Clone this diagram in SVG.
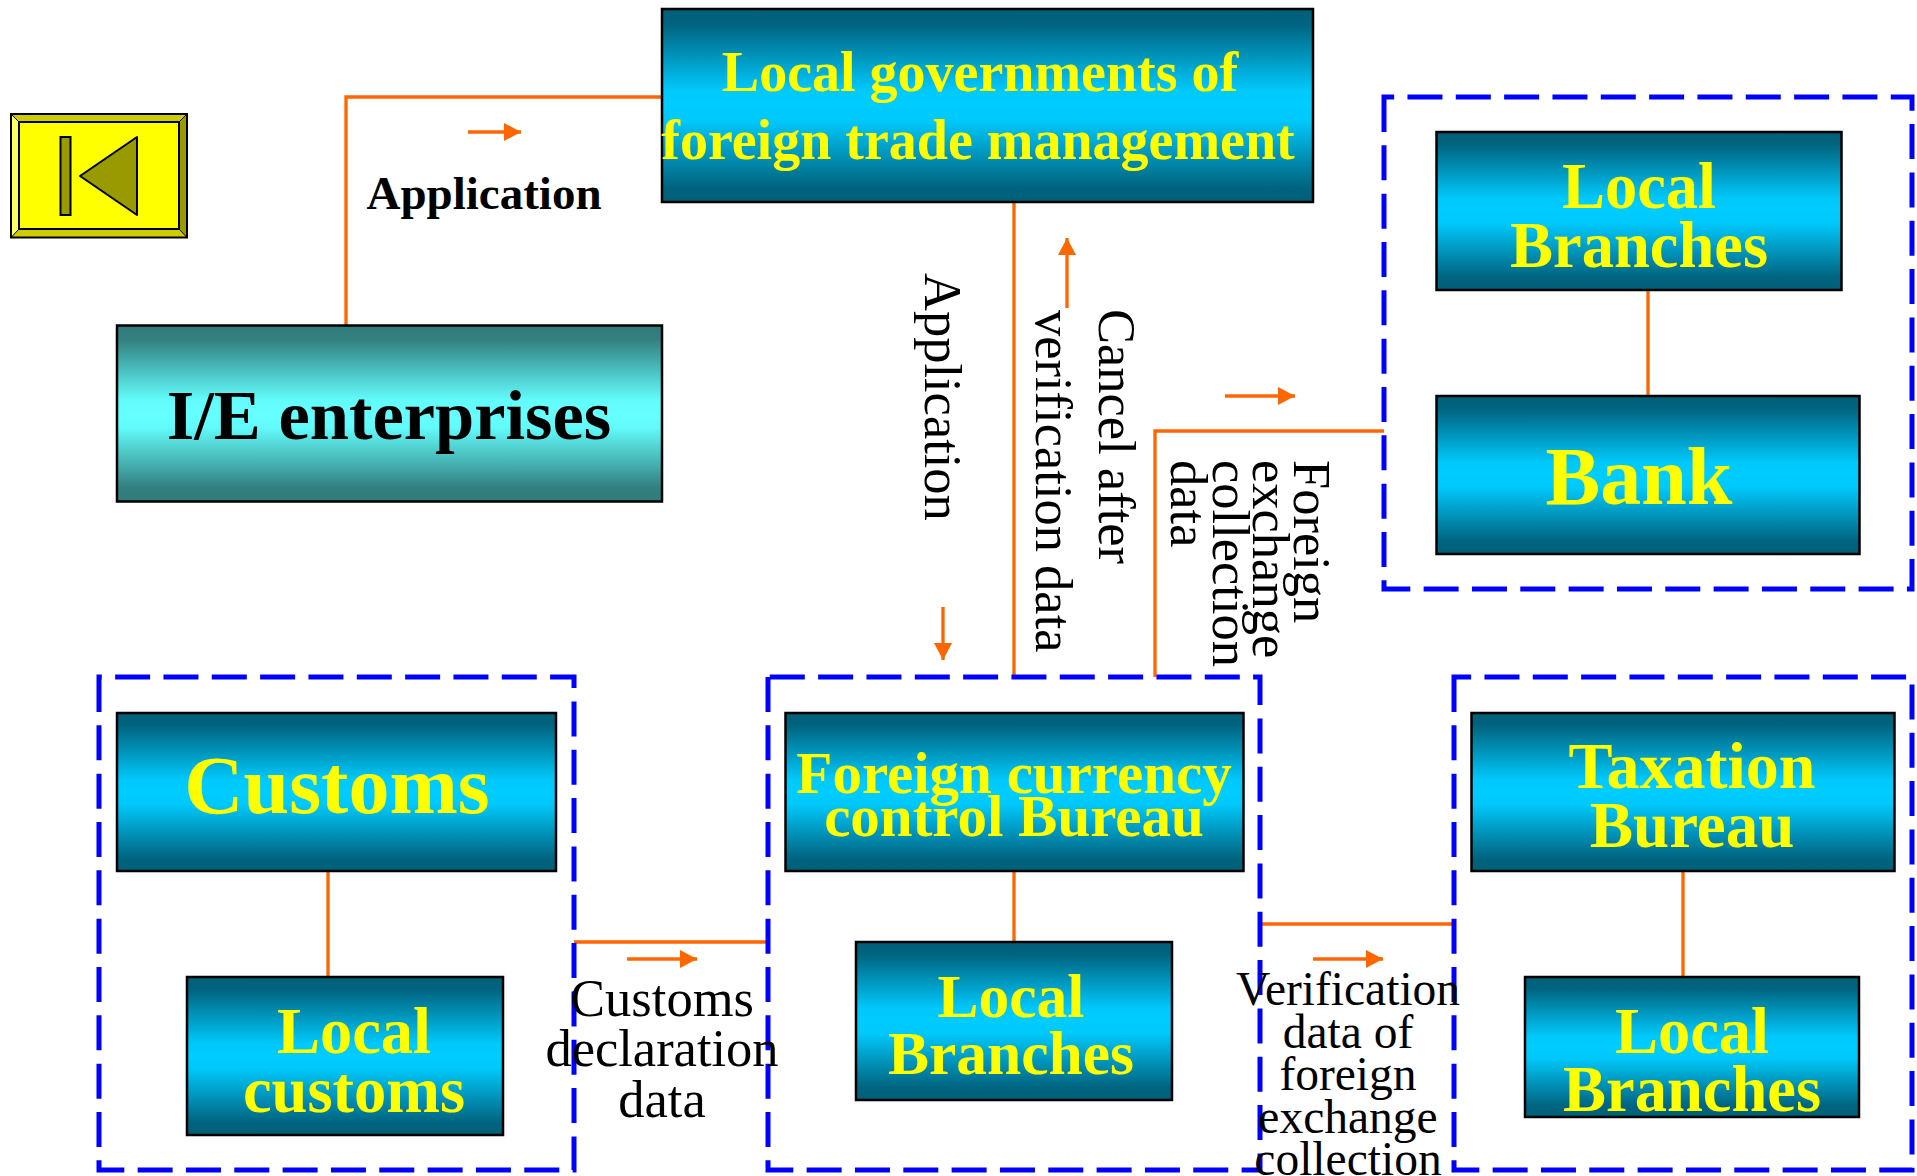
<svg xmlns="http://www.w3.org/2000/svg" width="1917" height="1176" viewBox="0 0 1917 1176">
<style>
.n{stroke:#000;stroke-width:2.500;fill:url(#g)}
.y{font-family:"Liberation Serif",serif;font-weight:bold;fill:#ffff00;text-anchor:middle}
.b{font-family:"Liberation Serif",serif;fill:#000;text-anchor:middle;font-size:52.500px}
.r{font-family:"Liberation Serif",serif;fill:#000;font-size:52.500px}
.v{font-family:"Liberation Serif",serif;fill:#000;text-anchor:middle;font-size:47.500px}
.c{fill:none;stroke:#ff6600;stroke-width:3.300}
.a{fill:none;stroke:#ff6600;stroke-width:3.300;marker-end:url(#m)}
.d{fill:none;stroke:#0000ff;stroke-width:5;stroke-dasharray:35 13.330}
</style>
<defs>
<linearGradient id="g" x1="0" y1="0" x2="0" y2="1"><stop offset="0" stop-color="#005f78"/><stop offset=".08" stop-color="#006480"/><stop offset=".42" stop-color="#00c8fa"/><stop offset=".5" stop-color="#00ccff"/><stop offset=".58" stop-color="#00c8fa"/><stop offset=".92" stop-color="#006480"/><stop offset="1" stop-color="#005f78"/></linearGradient>
<linearGradient id="t" x1="0" y1="0" x2="0" y2="1"><stop offset="0" stop-color="#337a7a"/><stop offset=".08" stop-color="#338080"/><stop offset=".42" stop-color="#62fafa"/><stop offset=".5" stop-color="#66ffff"/><stop offset=".58" stop-color="#62fafa"/><stop offset=".92" stop-color="#338080"/><stop offset="1" stop-color="#337a7a"/></linearGradient>
<marker id="m" markerUnits="userSpaceOnUse" markerWidth="18" markerHeight="18" refX="17" refY="9" orient="auto"><path d="M0 0L17 9L0 18Z" fill="#ff6600"/></marker>
</defs>
<g id="back">
<rect x="11" y="114" width="176" height="123.500" fill="#ffff00"/>
<path d="M11 114L19 122H179L187 114Z" fill="#cccc00"/><path d="M11 114L19 122V229L11 237.500Z" fill="#ffff66"/><path d="M187 114L179 122V229L187 237.500Z" fill="#999900"/><path d="M11 237.500L19 229H179L187 237.500Z" fill="#cccc00"/>
<path d="M11 114L19 122M187 114L179 122M11 237.500L19 229M187 237.500L179 229" stroke="#000" stroke-width="1" fill="none"/>
<rect x="11" y="114" width="176" height="123.500" fill="none" stroke="#000" stroke-width="2"/>
<rect x="19" y="122" width="160" height="107" fill="none" stroke="#000" stroke-width="2"/>
<rect x="60.500" y="137" width="10" height="78" fill="#999900" stroke="#000" stroke-width="2"/>
<path d="M80 176L137 137V215Z" fill="#999900" stroke="#000" stroke-width="2" stroke-linejoin="round"/>
</g>
<g id="connectors">
<path class="c" d="M346 325V97H662"/>
<path class="c" d="M1014 202V677"/>
<path class="c" d="M1155 677V431H1384"/>
<path class="c" d="M1648 290V396"/>
<path class="c" d="M328 871V977"/>
<path class="c" d="M1014 871V942"/>
<path class="c" d="M1683 871V977"/>
<path class="c" d="M574 942H768"/>
<path class="c" d="M1261 924H1454"/>
<path class="a" d="M468 132H521"/>
<path class="a" d="M1067 308V238"/>
<path class="a" d="M943 607V660"/>
<path class="a" d="M1225 396H1295"/>
<path class="a" d="M627 959H697"/>
<path class="a" d="M1313 959H1383"/>
</g>
<g id="groups">
<path class="d" d="M1384 97V589H1912V97Z"/>
<path class="d" d="M99 677V1170H574V677Z"/>
<path class="d" d="M768 677V1170H1260V677Z"/>
<path class="d" d="M1454 677V1170H1912V677Z"/>
</g>
<g id="gov"><rect class="n" x="662" y="9" width="651" height="193"/><text class="y" font-size="56" x="980" y="91">Local governments of</text><text class="y" font-size="56" x="978" y="159">foreign trade management</text></g>
<g id="ie"><rect x="117" y="325.500" width="545" height="176" fill="url(#t)" stroke="#000" stroke-width="2.500"/><text font-family="Liberation Serif,serif" font-weight="bold" text-anchor="middle" font-size="70.500" x="389" y="439">I/E enterprises</text></g>
<g id="lb1"><rect class="n" x="1436.500" y="132" width="405" height="158"/><text class="y" font-size="64.500" x="1639" y="208">Local</text><text class="y" font-size="64.500" x="1639" y="267">Branches</text></g>
<g id="bank"><rect class="n" x="1436.500" y="396" width="423" height="158"/><text class="y" font-size="82" x="1639" y="504">Bank</text></g>
<g id="customs"><rect class="n" x="117" y="713" width="439" height="158"/><text class="y" font-size="82" x="337" y="813">Customs</text></g>
<g id="localcustoms"><rect class="n" x="187" y="977" width="316" height="158"/><text class="y" font-size="64.500" x="354" y="1053">Local</text><text class="y" font-size="64.500" x="354" y="1112">customs</text></g>
<g id="fccb"><rect class="n" x="785.500" y="713" width="458" height="158"/><text class="y" font-size="59" x="1014" y="793">Foreign currency</text><text class="y" font-size="59" x="1014" y="836">control Bureau</text></g>
<g id="lb2"><rect class="n" x="856" y="942" width="316" height="158"/><text class="y" font-size="61.500" x="1011" y="1017">Local</text><text class="y" font-size="61.500" x="1011" y="1074">Branches</text></g>
<g id="tax"><rect class="n" x="1471.500" y="713" width="423" height="158"/><text class="y" font-size="66" x="1692" y="788">Taxation</text><text class="y" font-size="65" x="1692" y="847">Bureau</text></g>
<g id="lb3"><rect class="n" x="1525" y="977" width="334" height="140"/><text class="y" font-size="64.500" x="1692" y="1053">Local</text><text class="y" font-size="64.500" x="1692" y="1111">Branches</text></g>
<g id="labels">
<text font-family="Liberation Serif,serif" font-weight="bold" font-size="47" text-anchor="middle" x="484" y="209">Application</text>
<text class="r" transform="translate(925 273) rotate(90)">Application</text>
<text class="r" transform="translate(1099 309) rotate(90)">Cancel after</text>
<text class="r" transform="translate(1036 310) rotate(90)">verification data</text>
<text class="r" transform="translate(1294 460) rotate(90)">Foreign</text>
<text class="r" transform="translate(1253 460) rotate(90)">exchange</text>
<text class="r" transform="translate(1213 460) rotate(90)">collection</text>
<text class="r" transform="translate(1171 460) rotate(90)">data</text>
<text class="b" x="662" y="1016">Customs</text><text class="b" x="662" y="1066">declaration</text><text class="b" x="662" y="1117">data</text>
<text class="v" x="1348" y="1005">Verification</text><text class="v" x="1348" y="1048">data of</text><text class="v" x="1348" y="1090">foreign</text><text class="v" x="1348" y="1133">exchange</text><text class="v" x="1348" y="1175">collection</text>
</g>
</svg>
